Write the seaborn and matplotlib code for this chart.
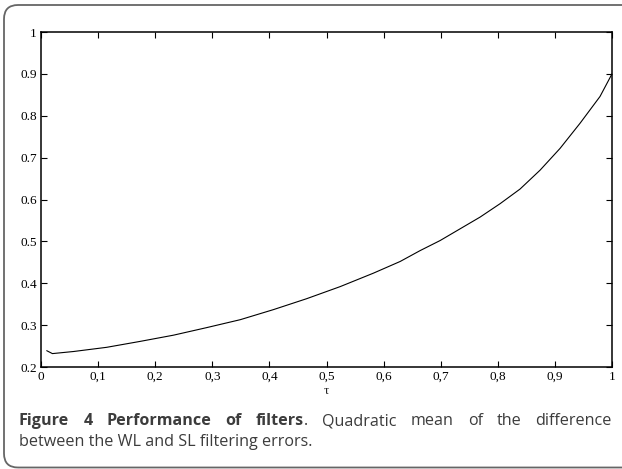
import numpy as np
import pandas as pd
import seaborn as sns
import matplotlib
matplotlib.use("Agg")
import matplotlib.pyplot as plt
from matplotlib.patches import FancyBboxPatch
from matplotlib.transforms import IdentityTransform

# values
tau = [0.01, 0.02, 0.057, 0.115, 0.173, 0.232, 0.29, 0.349, 0.407, 0.465, 0.524, 0.582,
       0.629, 0.664, 0.699, 0.734, 0.769, 0.804, 0.839, 0.874, 0.909, 0.944, 0.979, 1.0]
err = [0.239, 0.232, 0.237, 0.247, 0.261, 0.276, 0.294, 0.313, 0.337, 0.363, 0.392, 0.424,
       0.452, 0.478, 0.502, 0.530, 0.558, 0.590, 0.625, 0.670, 0.722, 0.782, 0.846, 0.900]

xticks = [0, 0.1, 0.2, 0.3, 0.4, 0.5, 0.6, 0.7, 0.8, 0.9, 1]
xticklabels = ["0", "0,1", "0,2", "0,3", "0,4", "0,5", "0,6", "0,7", "0,8", "0,9", "1"]
yticks = [0.2, 0.3, 0.4, 0.5, 0.6, 0.7, 0.8, 0.9, 1]
yticklabels = ["0.2", "0.3", "0.4", "0.5", "0.6", "0.7", "0.8", "0.9", "1"]

# caption, first line as (bold part, normal part) per word so it can be justified
line1 = [("Figure", ""), ("4", ""), ("Performance", ""), ("of", ""), ("filters", "."),
         ("", "Quadratic"), ("", "mean"), ("", "of"), ("", "the"), ("", "difference")]
line2 = "between the WL and SL filtering errors."

df = pd.DataFrame({"tau": tau, "err": err})

sns.set_style("ticks")
plt.rcParams['font.family'] = ['Liberation Serif', 'DejaVu Serif']

W, H = 622, 469
fig = plt.figure(figsize=(W / 100, H / 100), dpi=100)
ax = fig.add_axes([41 / W, 1 - 367 / H, (612 - 41) / W, (367 - 32) / H])

sns.lineplot(data=df, x="tau", y="err", color="black", linewidth=0.8, ax=ax)

ax.set_xlim(0, 1)
ax.set_ylim(0.2, 1)
ax.set_xticks(xticks)
ax.set_xticklabels(xticklabels)
ax.set_yticks(yticks)
ax.set_yticklabels(yticklabels)
ax.tick_params(direction="in", length=4, width=0.8, labelsize=9.5, pad=3,
               top=True, right=True, colors="black")
for s in ax.spines.values():
    s.set_visible(True)
    s.set_linewidth(1.1)
    s.set_color("black")
ax.set_xlabel("τ", fontsize=9.5, labelpad=1)
ax.set_ylabel("")

# rounded caption frame (right side runs off the picture)
box = FancyBboxPatch((4, 1.5), 640, 462.5, boxstyle="round,pad=0,rounding_size=14",
                     transform=IdentityTransform(), facecolor="none",
                     edgecolor="#666666", linewidth=1.3)
fig.patches.append(box)

cap_font = ['Open Sans', 'DejaVu Sans']
cap_size = 11.6
cap_col = "#3c3c3c"
r = fig.canvas.get_renderer()
x_left, x_right = 19, 612
y1 = 1 - 425 / H

# measure the words, then spread them to fill the line
pieces = []
total = 0
for b, n in line1:
    parts = []
    w = 0
    for txt, wt in ((b, "bold"), (n, "normal")):
        if txt:
            t = fig.text(0, y1, txt, fontsize=cap_size, fontweight=wt, family=cap_font,
                         color=cap_col, va="baseline")
            tw = t.get_window_extent(renderer=r).width
            parts.append((t, tw))
            w += tw
    pieces.append(parts)
    total += w
gap = (x_right - x_left - total) / (len(pieces) - 1)
x = x_left
for parts in pieces:
    for t, tw in parts:
        t.set_x(x / W)
        x += tw
    x += gap

fig.text(x_left / W, 1 - 446 / H, line2, fontsize=cap_size,
         family=cap_font, color=cap_col, va="baseline")

fig.savefig("out.png", dpi=100)
